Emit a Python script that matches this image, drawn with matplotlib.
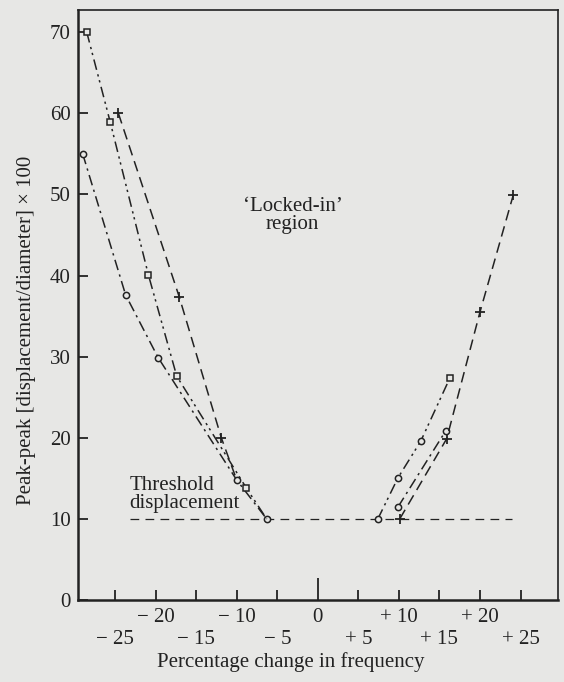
import numpy as np
import matplotlib.pyplot as plt

plt.rcParams['font.family'] = ['Liberation Serif', 'DejaVu Serif']

# circles, dash-dot
a_left_x = [-29.0, -23.7, -19.7, -10.0, -6.3]
a_left_y = [55.0, 37.6, 29.9, 14.8, 10.0]
a_right_x = [9.9, 15.8]
a_right_y = [11.5, 20.9]

# squares, dash-dot-dot
b_left_x = [-28.5, -25.6, -20.9, -17.4, -8.8, -6.3]
b_left_y = [70.0, 58.9, 40.1, 27.6, 13.8, 10.0]
b_right_x = [7.4, 9.9, 12.7, 16.3]
b_right_y = [10.0, 15.1, 19.6, 27.4]

# plus, dashed
c_left_x = [-24.6, -17.1, -11.9, -10.0]
c_left_y = [60.0, 37.4, 20.0, 14.8]
c_right_x = [10.1, 15.9, 20.0, 24.1]
c_right_y = [10.0, 19.9, 35.5, 49.9]

threshold = 10
threshold_x = [-23.2, 24.0]

xticks = [-25, -20, -15, -10, -5, 0, 5, 10, 15, 20, 25]
yticks = [0, 10, 20, 30, 40, 50, 60, 70]

ink = '#222222'
bg = '#e7e7e5'

fig = plt.figure(figsize=(5.64, 6.82), dpi=100, facecolor=bg)
ax = fig.add_axes([0.138, 0.120, 0.851, 0.865], facecolor=bg)

dashdot = (0, (7, 3, 1.5, 3))
dashdotdot = (0, (7, 3, 1.5, 2.5, 1.5, 3))
dashed = (0, (7, 4))
mk = dict(markersize=4.5, markerfacecolor=bg, markeredgecolor=ink, markeredgewidth=1.1)

ax.plot(a_left_x, a_left_y, color=ink, lw=1.1, ls=dashdot, marker='o', **mk)
ax.plot(a_right_x, a_right_y, color=ink, lw=1.1, ls=dashdot, marker='o', **mk)

ax.plot(b_left_x, b_left_y, color=ink, lw=1.1, ls=dashdotdot, marker='s',
        markevery=slice(0, -1), **mk)
ax.plot(b_right_x, b_right_y, color=ink, lw=1.1, ls=dashdotdot, marker='o',
        markevery=slice(0, -1), **mk)
ax.plot(b_right_x[-1:], b_right_y[-1:], ls='none', marker='s', **mk)

ax.plot(c_left_x, c_left_y, color=ink, lw=1.1, ls=dashed, marker='+',
        markevery=slice(0, -1), markersize=7, markeredgewidth=1.3)
ax.plot(c_right_x, c_right_y, color=ink, lw=1.1, ls=dashed, marker='+',
        markersize=7, markeredgewidth=1.3)

ax.plot(threshold_x, [threshold, threshold], color=ink, lw=0.9, ls=(0, (7, 5)), zorder=1)

ax.text(-3.1, 47.4, "\u2018Locked-in\u2019\nregion", ha='center', va='center',
        fontsize=15, color=ink, linespacing=0.95)
ax.text(-23.2, 10.7, "Threshold\ndisplacement", ha='left', va='bottom',
        fontsize=15, color=ink, linespacing=0.95)

ax.set_xlim(-29.6, 29.6)
ax.set_ylim(0, 72.7)

def xlab(v):
    if v == 0:
        s = '0'
    elif v < 0:
        s = '\u2212 %d' % -v
    else:
        s = '+ %d' % v
    return s + '\n' if v % 10 == 0 else '\n' + s

ax.set_xticks(xticks)
ax.set_xticklabels([xlab(v) for v in xticks], linespacing=1.2)
ax.set_yticks(yticks)
ax.tick_params(axis='both', direction='in', colors=ink, labelsize=15, width=1.3, length=7)
ax.tick_params(axis='x', pad=6)
ax.tick_params(axis='y', pad=5)
ax.xaxis.get_major_ticks()[5].tick1line.set_markersize(16)

for side in ['left', 'bottom']:
    ax.spines[side].set_linewidth(1.8)
for side in ['top', 'right']:
    ax.spines[side].set_linewidth(1.2)
for s in ax.spines.values():
    s.set_color(ink)

ax.set_xlabel('Percentage change in frequency', fontsize=15, color=ink)
ax.xaxis.set_label_coords(0.444, -0.088)
ax.set_ylabel('Peak-peak [displacement/diameter] \u00d7 100', fontsize=15, color=ink)
ax.yaxis.set_label_coords(-0.088, 0.458)

fig.savefig('out.png', dpi=100, facecolor=bg)
